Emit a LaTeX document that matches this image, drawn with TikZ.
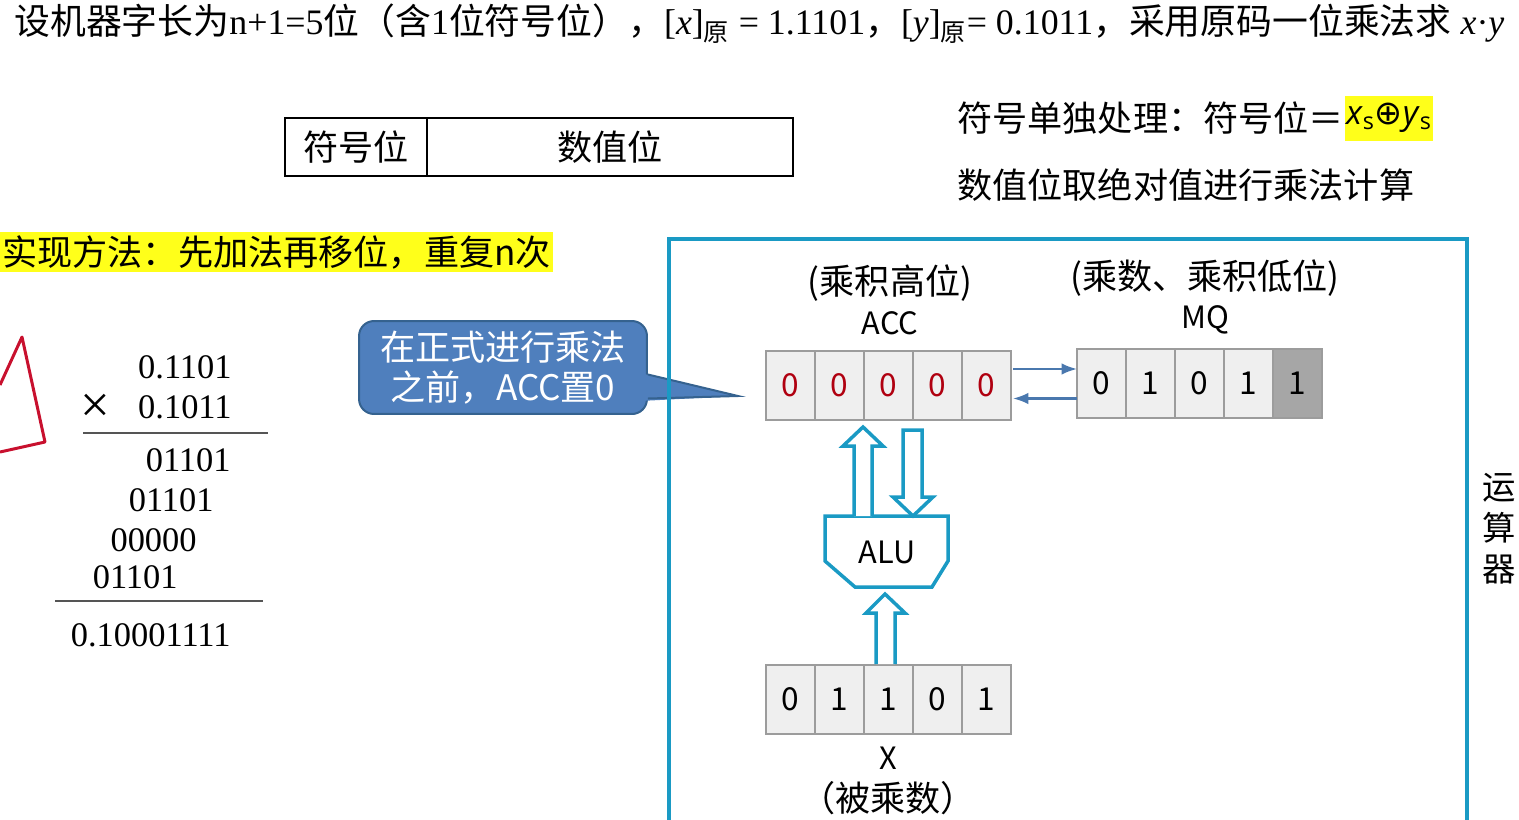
\documentclass[tikz,border=0pt]{standalone}
\usepackage{fontspec}
\setmainfont{Liberation Serif}
\newfontfamily\cjk{Noto Sans CJK SC}
\newfontfamily\latsans{Open Sans}
\newfontfamily\symfont{DejaVu Sans}
\usetikzlibrary{arrows.meta,positioning,calc}
\definecolor{opblue}{HTML}{1A9AC4}
\definecolor{calloutfill}{HTML}{4F7FBD}
\definecolor{calloutedge}{HTML}{35628F}
\definecolor{flowblue}{HTML}{4A78AE}
\definecolor{cellgray}{HTML}{9C9C9C}
\definecolor{cellfill}{HTML}{EFEFEF}
\definecolor{celldark}{HTML}{A6A6A6}
\definecolor{accred}{HTML}{B00010}
\definecolor{markred}{HTML}{C8102E}
\definecolor{hiyellow}{HTML}{FFFF1A}
\definecolor{rulegray}{HTML}{555555}

\tikzset{
  cjktxt/.style={inner sep=0pt, font=\cjk\fontsize{20}{24}\selectfont},
  fmtbox/.style={draw=black, line width=0.04cm, minimum height=1.16cm, outer sep=0pt, inner sep=0pt, font=\cjk\fontsize{20}{24}\selectfont},
  regcell/.style={draw=cellgray, line width=0.04cm, fill=cellfill, minimum width=0.98cm, minimum height=1.38cm, outer sep=0pt, inner sep=0pt, font=\cjk\fontsize{18}{21}\selectfont},
  reglabel/.style={inner sep=0pt, font=\cjk\fontsize{17.5}{20}\selectfont},
  mathnum/.style={inner sep=0pt, anchor=east, font=\fontsize{19.6}{23}\selectfont},
  opline/.style={draw=opblue, line width=0.07cm, line join=miter},
  blockarrow/.style={opline, fill=white},
  flowarrow/.style={->, draw=flowblue, line width=0.045cm},
}

\begin{document}
\begin{tikzpicture}[x=0.02cm, y=-0.02cm, >=Latex]
  \useasboundingbox (0,0) rectangle (1519,819);
  \clip (0,0) rectangle (1519,819);

  % title line
  \node[anchor=base west, inner sep=0pt, font=\fontsize{20.4}{24}\selectfont] (title) at (14,34)
  {{\cjk 设机器字长为}n+1=5{\cjk 位（含}1{\cjk 位符号位），}[\textit{x}]\textsubscript{\cjk 原} = 1.1101{\cjk ，}[\textit{y}]\textsubscript{\cjk 原}= 0.1011{\cjk ，采用原码一位乘法求} \textit{x}·\textit{y}};

  % sign / value format
  \node[fmtbox, minimum width=2.84cm] (signbox) at (356,147) {符号位};
  \node[fmtbox, minimum width=7.32cm, right=0pt of signbox] (valbox) {数值位};

  \node[cjktxt, anchor=west] (signrule) at (957,118) {符号单独处理：符号位＝};
  \node[right=0pt of signrule, fill=hiyellow, inner xsep=0.03cm, inner ysep=0pt, minimum height=0.9cm,
        font=\latsans\fontsize{19}{22}\selectfont] (xor)
  {\textit{x}\textsubscript{s}{\symfont ⊕}\textit{y}\textsubscript{s}};
  \node[cjktxt, anchor=west] (absrule) at (957,185) {数值位取绝对值进行乘法计算};

  \node[cjktxt, anchor=west, fill=hiyellow, inner xsep=0.04cm, minimum height=0.8cm] (method) at (0,252)
  {实现方法：先加法再移位，重复n次};

  % hand mark
  \draw[markred, line width=0.06cm, line join=round] (0,385) -- (22,337) -- (45,442) -- (0,452);

  % paper multiplication
  \node[mathnum] (mcand) at (232,367) {0.1101};
  \node[mathnum] (mplier) at (232,407) {0.1011};
  \node[inner sep=0pt, font=\fontsize{30}{32}\selectfont] (times) at (95,408) {×};
  \draw[rulegray, line width=0.03cm] (83,433) -- (268,433);
  \node[mathnum] (pp1) at (231,460) {01101};
  \node[mathnum] (pp2) at (214,500) {01101};
  \node[mathnum] (pp3) at (197,540) {00000};
  \node[mathnum] (pp4) at (178,577) {01101};
  \draw[rulegray, line width=0.03cm] (55,601) -- (263,601);
  \node[mathnum] (prod) at (231,635) {0.10001111};

  % callout
  \node[draw=calloutedge, fill=calloutfill, line width=0.04cm, rounded corners=0.3cm,
        minimum width=5.76cm, minimum height=1.86cm, inner sep=0pt, align=center, text=white,
        font=\cjk\fontsize{20}{22.7}\selectfont] (callout) at (503,367.5)
  {在正式进行乘法\\之前，ACC置0};
  \coordinate (tip) at (738,396);
  \fill[calloutfill] (640,373) -- (tip) -- (640,401) -- cycle;
  \draw[calloutedge, line width=0.04cm] ($(callout.east)+(0,7)$) -- (tip) -- ($(callout.east)+(0,31)$);

  % arithmetic unit frame
  \draw[opline, line width=0.08cm] (669,830) -- (669,239) -- (1467,239) -- (1467,830);
  \node[inner sep=0pt, align=center, font=\cjk\fontsize{19}{23.3}\selectfont] (opunit) at (1499,529) {运\\算\\器};

  % registers
  \foreach \v [count=\i] in {0,0,0,0,0}
    \node[regcell, text=accred] (acc\i) at ({741.5+49*\i},385) {\v};
  \foreach \v/\f [count=\i] in {0/cellfill,1/cellfill,0/cellfill,1/cellfill,1/celldark}
    \node[regcell, fill=\f] (mq\i) at ({1052.5+49*\i},383.5) {\v};
  \foreach \v [count=\i] in {0,1,1,0,1}
    \node[regcell] (x\i) at ({741.5+49*\i},699) {\v};

  \node[cjktxt] (acchi) at (890,283) {(乘积高位)};
  \node[reglabel] (acclab) at (890,323) {ACC};
  \node[cjktxt] (mqhi) at (1205,278) {(乘数、乘积低位)};
  \node[reglabel] (mqlab) at (1205,320) {MQ};
  \node[reglabel] (xlab) at (888,758) {X};
  \node[cjktxt] (xhi) at (888,798) {（被乘数）};

  \draw[flowarrow] ([xshift=0.04cm, yshift=0.32cm]acc5.east) -- ([yshift=0.32cm]acc5.east -| mq1.west);
  \draw[flowarrow] ([yshift=-0.3cm]mq1.west) -- ([xshift=0.04cm, yshift=-0.3cm]mq1.west -| acc5.east);

  % ALU
  \draw[opline, fill=white] (825,516) -- (948,516) -- (948,561) -- (932,587) -- (855,587) -- (825,561) -- cycle;
  \node[reglabel] (alu) at (887,552) {ALU};
  \draw[blockarrow] (854,516) -- (854,446) -- (843,446) -- (863,427) -- (883,446) -- (872,446) -- (872,516);
  \draw[blockarrow] (903,430) -- (903,497) -- (893,497) -- (913,516) -- (933,497) -- (922,497) -- (922,430) -- cycle;
  \draw[blockarrow] (876,664) -- (876,613) -- (866,613) -- (885,594) -- (905,613) -- (895,613) -- (895,664);
\end{tikzpicture}
\end{document}
